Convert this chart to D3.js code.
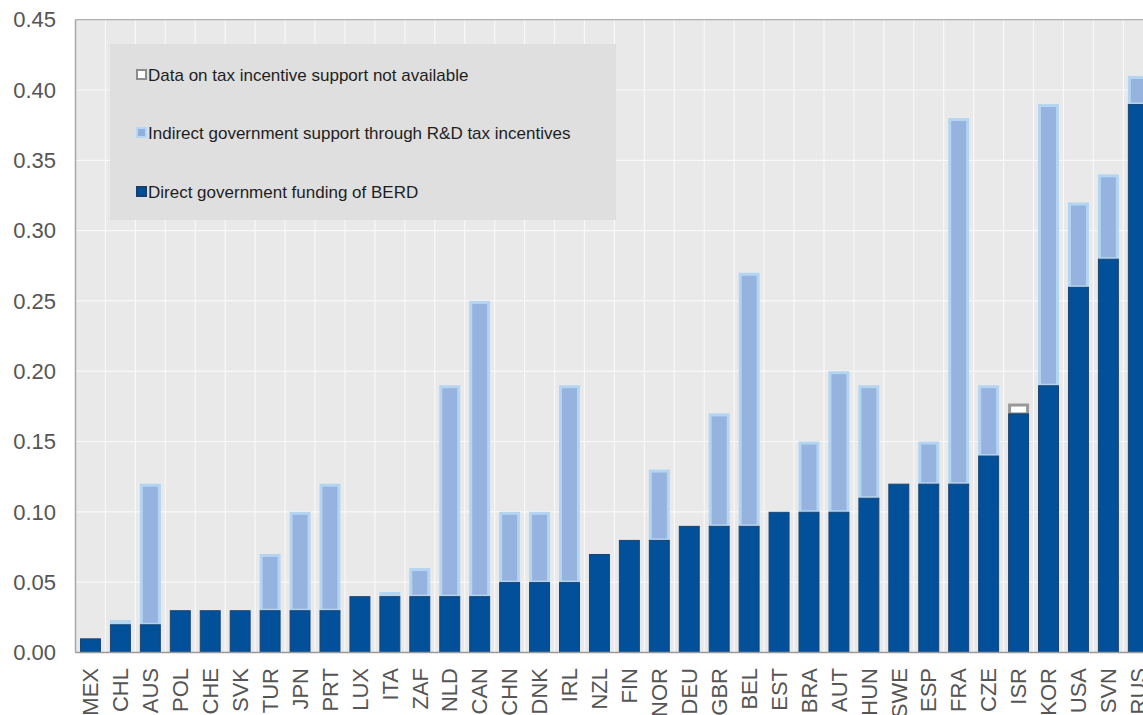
<!DOCTYPE html>
<html>
<head>
<meta charset="utf-8">
<script src="https://cdn.jsdelivr.net/npm/d3@7"></script>
<style>
  html, body { margin: 0; padding: 0; background: #ffffff; }
  svg { display: block; font-family: "Liberation Sans", Arial, sans-serif; }
</style>
</head>
<body>
<svg id="chart" width="1143" height="715"></svg>
<script>
const countries = ["MEX","CHL","AUS","POL","CHE","SVK","TUR","JPN","PRT","LUX","ITA","ZAF","NLD","CAN","CHN","DNK","IRL","NZL","FIN","NOR","DEU","GBR","BEL","EST","BRA","AUT","HUN","SWE","ESP","FRA","CZE","ISR","KOR","USA","SVN","RUS"];
const direct = [0.01,0.02,0.02,0.03,0.03,0.03,0.03,0.03,0.03,0.04,0.04,0.04,0.04,0.04,0.05,0.05,0.05,0.07,0.08,0.08,0.09,0.09,0.09,0.10,0.10,0.10,0.11,0.12,0.12,0.12,0.14,0.17,0.19,0.26,0.28,0.39];
const indirect = [0,0.003,0.10,0,0,0.001,0.04,0.07,0.09,0,0.003,0.02,0.15,0.21,0.05,0.05,0.14,0,0,0.05,0,0.08,0.18,0,0.05,0.10,0.08,0,0.03,0.26,0.05,0,0.20,0.06,0.06,0.02];
const notAvailable = [0,0,0,0,0,0,0,0,0,0,0,0,0,0,0,0,0,0,0,0,0,0,0,0,0,0,0,0,0,0,0,0.007,0,0,0,0];
const yTicks = [0,0.05,0.10,0.15,0.20,0.25,0.30,0.35,0.40,0.45];
const legendLabels = ["Data on tax incentive support not available","Indirect government support through R&D tax incentives","Direct government funding of BERD"];

(function () {
const svg = d3.select("#chart");
const pL = 75.5, pT = 19.7, pB = 652.4, pR = 1153.3;

const x = d3.scaleBand().domain(countries).range([pL, pR]).paddingInner(0.3).paddingOuter(0.15);
const y = d3.scaleLinear().domain([0, 0.45]).range([pB, pT]);

// plot background
svg.append("rect").attr("x", pL).attr("y", pT).attr("width", 1143 - pL).attr("height", pB - pT).attr("fill", "#e9e9e9");

// horizontal grid
svg.append("g").selectAll("line").data(yTicks.slice(1, -1)).join("line")
  .attr("x1", pL).attr("x2", 1143).attr("y1", d => y(d)).attr("y2", d => y(d))
  .attr("stroke", "#f8f8f8").attr("stroke-width", 1.2);

// vertical grid at band boundaries
svg.append("g").selectAll("line").data(countries.slice(1)).join("line")
  .attr("x1", d => x(d) - x.step() * 0.15).attr("x2", d => x(d) - x.step() * 0.15)
  .attr("y1", pT).attr("y2", pB)
  .attr("stroke", "#f8f8f8").attr("stroke-width", 1.2);

// top border
svg.append("line").attr("x1", pL).attr("x2", 1143).attr("y1", pT).attr("y2", pT).attr("stroke", "#b0b0b0").attr("stroke-width", 1.2);

// legend box
const lg = svg.append("g");
lg.append("rect").attr("x", 110).attr("y", 44).attr("width", 506).attr("height", 176).attr("fill", "#dfdfdf");
const legendStyles = [
  {fill: "#ffffff", stroke: "#8c8c8c"},
  {fill: "#8fb0db", stroke: "#b5d7f3"},
  {fill: "#004f98", stroke: "#1a3f6a"}
];
const legendY = [75, 133, 192];
legendLabels.forEach((t, i) => {
  lg.append("rect").attr("x", 137).attr("y", legendY[i] - 5).attr("width", 9).attr("height", 9)
    .attr("fill", legendStyles[i].fill).attr("stroke", legendStyles[i].stroke).attr("stroke-width", 2);
  lg.append("text").attr("x", 148).attr("y", legendY[i]).attr("dy", "0.35em")
    .attr("font-size", 17).attr("fill", "#1e1e1e").text(t);
});

// bars
const bw = x.bandwidth();
const g = svg.append("g");
countries.forEach((c, i) => {
  const x0 = x(c);
  const d0 = direct[i], d1 = d0 + indirect[i];
  if (indirect[i] > 0) {
    g.append("rect").attr("x", x0 + 1.5).attr("y", y(d1) + 1.5)
      .attr("width", bw - 3).attr("height", Math.max(0, y(d0) - y(d1) - 1.5))
      .attr("fill", "#95b3de").attr("stroke", "#b3d5f2").attr("stroke-width", 3);
  }
  if (notAvailable[i] > 0) {
    const t = d0 + notAvailable[i];
    g.append("rect").attr("x", x0 + 1.5).attr("y", y(t) + 1.5)
      .attr("width", bw - 3).attr("height", Math.max(0, y(d0) - y(t) - 1))
      .attr("fill", "#ffffff").attr("stroke", "#999999").attr("stroke-width", 3);
  }
  g.append("rect").attr("x", x0 + 0.5).attr("y", y(d0) + 0.5)
    .attr("width", bw - 1).attr("height", y(0) - y(d0) - 0.5)
    .attr("fill", "#02509a").attr("stroke", "#1a4472").attr("stroke-width", 1);
});

// axis lines
svg.append("line").attr("x1", pL).attr("x2", 1143).attr("y1", pB).attr("y2", pB).attr("stroke", "#9a9a9a").attr("stroke-width", 1.5);
svg.append("line").attr("x1", pL).attr("x2", pL).attr("y1", pT).attr("y2", pB).attr("stroke", "#a8a8a8").attr("stroke-width", 1.5);

// y tick labels
svg.append("g").selectAll("text").data(yTicks).join("text")
  .attr("x", 56).attr("y", d => y(d)).attr("dy", "0.35em").attr("text-anchor", "end")
  .attr("font-size", 22).attr("fill", "#555555")
  .text(d => d3.format(".2f")(d));

// x tick labels
svg.append("g").selectAll("text").data(countries).join("text")
  .attr("transform", d => `translate(${x(d) + bw / 2},668) rotate(-90)`)
  .attr("dy", "0.35em").attr("text-anchor", "end")
  .attr("font-size", 22).attr("fill", "#555555")
  .text(d => d);
})();
</script>
</body>
</html>
